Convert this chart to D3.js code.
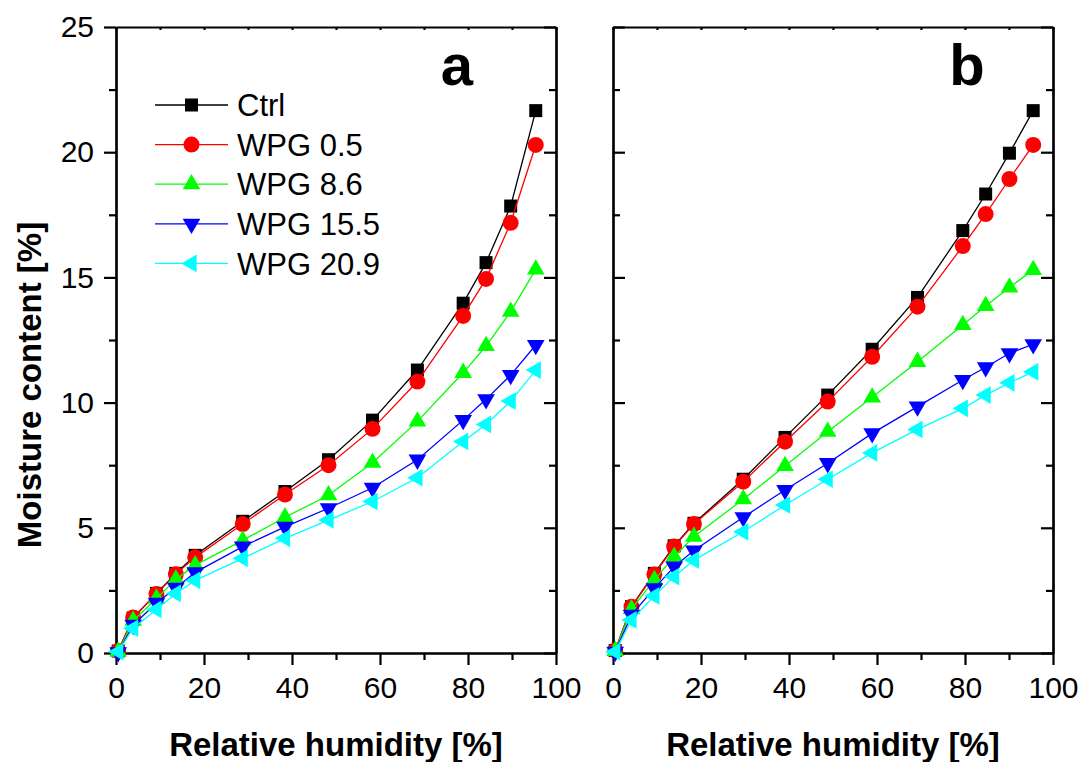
<!DOCTYPE html>
<html>
<head>
<meta charset="utf-8">
<script src="https://cdn.jsdelivr.net/npm/d3@7"></script>
<style>
  body { margin: 0; background: #fff; }
  svg { display: block; font-family: "Liberation Sans", Arial, sans-serif; }
  .axis path, .axis line { stroke: #000; stroke-width: 2.2; }
  .axis text { font-size: 30px; fill: #000; }
</style>
</head>
<body>
<div class="canvas"></div>
<script>
// 두 패널 (a, b) 흡습 등온선
const width = 1084;
const height = 762;

const seriesNames = ["Ctrl", "WPG 0.5", "WPG 8.6", "WPG 15.5", "WPG 20.9"];
const seriesColors = ["#000000", "#ff0000", "#00ff00", "#0000ff", "#00ffff"];

// panel a
const rhA = [0.5, 3.9, 9.2, 13.6, 18, 28.8, 38.4, 48.3, 58.3, 68.5, 78.9, 84.1, 89.7, 95.4];
const ctrlA = [0.08, 1.40, 2.38, 3.18, 3.90, 5.26, 6.45, 7.72, 9.30, 11.30, 13.97, 15.59, 17.85, 21.66];
const wpg05A = [0.08, 1.42, 2.36, 3.15, 3.82, 5.15, 6.33, 7.50, 8.95, 10.84, 13.46, 14.94, 17.18, 20.29];
const wpg86A = [0.05, 1.29, 2.18, 2.94, 3.51, 4.50, 5.42, 6.30, 7.60, 9.25, 11.19, 12.26, 13.63, 15.32];
const wpg155A = [0.03, 1.12, 2.00, 2.60, 3.22, 4.25, 5.04, 5.78, 6.60, 7.72, 9.30, 10.13, 11.10, 12.30];
const wpg209A = [0.05, 0.99, 1.74, 2.38, 2.90, 3.78, 4.58, 5.31, 6.05, 7.00, 8.45, 9.13, 10.06, 11.30];

// panel b
const rhB = [0.5, 4.2, 9.4, 13.9, 18.4, 29.6, 39.1, 48.8, 58.9, 69.2, 79.5, 84.7, 90.1, 95.5];
const ctrlB = [0.10, 1.85, 3.18, 4.28, 5.18, 6.94, 8.61, 10.30, 12.13, 14.20, 16.87, 18.33, 19.96, 21.66];
const wpg05B = [0.10, 1.85, 3.14, 4.25, 5.15, 6.84, 8.44, 10.04, 11.83, 13.83, 16.25, 17.53, 18.93, 20.29];
const wpg86B = [0.08, 1.75, 2.92, 3.85, 4.65, 6.14, 7.47, 8.84, 10.21, 11.63, 13.10, 13.86, 14.60, 15.30];
const wpg155B = [0.05, 1.52, 2.58, 3.45, 4.09, 5.42, 6.51, 7.58, 8.77, 9.84, 10.90, 11.41, 11.97, 12.33];
const wpg209B = [0.05, 1.32, 2.28, 3.05, 3.71, 4.84, 5.91, 6.94, 7.99, 8.93, 9.77, 10.30, 10.79, 11.23];

const xTicks = [0, 20, 40, 60, 80, 100];
const xMinor = [10, 30, 50, 70, 90];
const yTicks = [0, 5, 10, 15, 20, 25];
const yMinor = [2.5, 7.5, 12.5, 17.5, 22.5];

const panels = [
  { label: "a", left: 116, rh: rhA, series: [ctrlA, wpg05A, wpg86A, wpg155A, wpg209A], yLabels: true, legend: true },
  { label: "b", left: 613, rh: rhB, series: [ctrlB, wpg05B, wpg86B, wpg155B, wpg209B], yLabels: false, legend: false }
];
const panelWidth = 440;
const plotTop = 27;
const plotBottom = 653;

// 마커 모양
const symbols = [
  d3.symbol().type(d3.symbolSquare).size(169),
  d3.symbol().type(d3.symbolCircle).size(200),
  d3.symbol().type(d3.symbolTriangle).size(135),
  d3.symbol().type(d3.symbolTriangle).size(135),
  d3.symbol().type(d3.symbolTriangle).size(135)
];
const rotations = [0, 0, 0, 180, -90];

const svg = d3.select(".canvas").append("svg")
  .attr("width", width)
  .attr("height", height);

const y = d3.scaleLinear().domain([0, 25]).range([plotBottom, plotTop]);

panels.forEach(p => {
  const x = d3.scaleLinear().domain([0, 100]).range([p.left, p.left + panelWidth]);
  const right = p.left + panelWidth;

  // 아래 축
  svg.append("g").attr("class", "axis")
    .attr("transform", `translate(0,${plotBottom})`)
    .call(d3.axisBottom(x).tickValues(xTicks).tickSize(12).tickSizeOuter(0).tickPadding(12));
  svg.append("g").attr("class", "axis")
    .attr("transform", `translate(0,${plotBottom})`)
    .call(d3.axisBottom(x).tickValues(xMinor).tickSize(7).tickSizeOuter(0).tickFormat(""));

  // 위 축 (짧은 눈금)
  svg.append("g").attr("class", "axis")
    .attr("transform", `translate(0,${plotTop})`)
    .call(d3.axisBottom(x).tickValues(xTicks.concat(xMinor)).tickSize(3).tickSizeOuter(0).tickFormat(""));

  // 왼쪽 축
  if (p.yLabels) {
    svg.append("g").attr("class", "axis")
      .attr("transform", `translate(${p.left},0)`)
      .call(d3.axisLeft(y).tickValues(yTicks).tickSize(12).tickSizeOuter(0).tickPadding(10));
    svg.append("g").attr("class", "axis")
      .attr("transform", `translate(${p.left},0)`)
      .call(d3.axisLeft(y).tickValues(yMinor).tickSize(7).tickSizeOuter(0).tickFormat(""));
  } else {
    svg.append("g").attr("class", "axis")
      .attr("transform", `translate(${p.left},0)`)
      .call(d3.axisRight(y).tickValues(yTicks).tickSize(12).tickSizeOuter(0).tickFormat(""));
    svg.append("g").attr("class", "axis")
      .attr("transform", `translate(${p.left},0)`)
      .call(d3.axisRight(y).tickValues(yMinor).tickSize(7).tickSizeOuter(0).tickFormat(""));
  }

  // 오른쪽 축 (안쪽 눈금)
  svg.append("g").attr("class", "axis")
    .attr("transform", `translate(${right},0)`)
    .call(d3.axisLeft(y).tickValues(yTicks).tickSize(12).tickSizeOuter(0).tickFormat(""));
  svg.append("g").attr("class", "axis")
    .attr("transform", `translate(${right},0)`)
    .call(d3.axisLeft(y).tickValues(yMinor).tickSize(7).tickSizeOuter(0).tickFormat(""));

  // 데이터 선과 마커
  const line = d3.line().x(d => x(d[0])).y(d => y(d[1]));
  p.series.forEach((vals, i) => {
    const pts = p.rh.map((r, j) => [r, vals[j]]);
    svg.append("path")
      .datum(pts)
      .attr("d", line)
      .attr("fill", "none")
      .attr("stroke", seriesColors[i])
      .attr("stroke-width", 1.3);
    svg.append("g").selectAll("path")
      .data(pts)
      .join("path")
      .attr("d", symbols[i])
      .attr("transform", d => `translate(${x(d[0])},${y(d[1])}) rotate(${rotations[i]})`)
      .attr("fill", seriesColors[i]);
  });

  // 패널 라벨
  svg.append("text")
    .attr("x", p.left + (p.label === "a" ? 341 : 354))
    .attr("y", 85)
    .attr("text-anchor", "middle")
    .style("font-size", "58px")
    .style("font-weight", "bold")
    .text(p.label);

  // x 축 이름
  svg.append("text")
    .attr("x", p.left + panelWidth / 2)
    .attr("y", 756)
    .attr("text-anchor", "middle")
    .style("font-size", "33px")
    .style("font-weight", "bold")
    .text("Relative humidity [%]");

  // 범례
  if (p.legend) {
    const lx1 = 155, lx2 = 228, ly0 = 105, lstep = 39.6;
    seriesNames.forEach((name, i) => {
      const g = svg.append("g").attr("transform", `translate(0,${ly0 + i * lstep})`);
      g.append("line")
        .attr("x1", lx1).attr("x2", lx2)
        .attr("stroke", seriesColors[i]).attr("stroke-width", 1.3);
      g.append("path")
        .attr("d", symbols[i])
        .attr("transform", `translate(${(lx1 + lx2) / 2},0) rotate(${rotations[i]})`)
        .attr("fill", seriesColors[i]);
      g.append("text")
        .attr("x", 237)
        .attr("dy", "0.36em")
        .style("font-size", "31px")
        .text(name);
    });
  }
});

// y 축 이름
svg.append("text")
  .attr("transform", "translate(41,385) rotate(-90)")
  .attr("text-anchor", "middle")
  .style("font-size", "33px")
  .style("font-weight", "bold")
  .text("Moisture content [%]");
</script>
</body>
</html>
